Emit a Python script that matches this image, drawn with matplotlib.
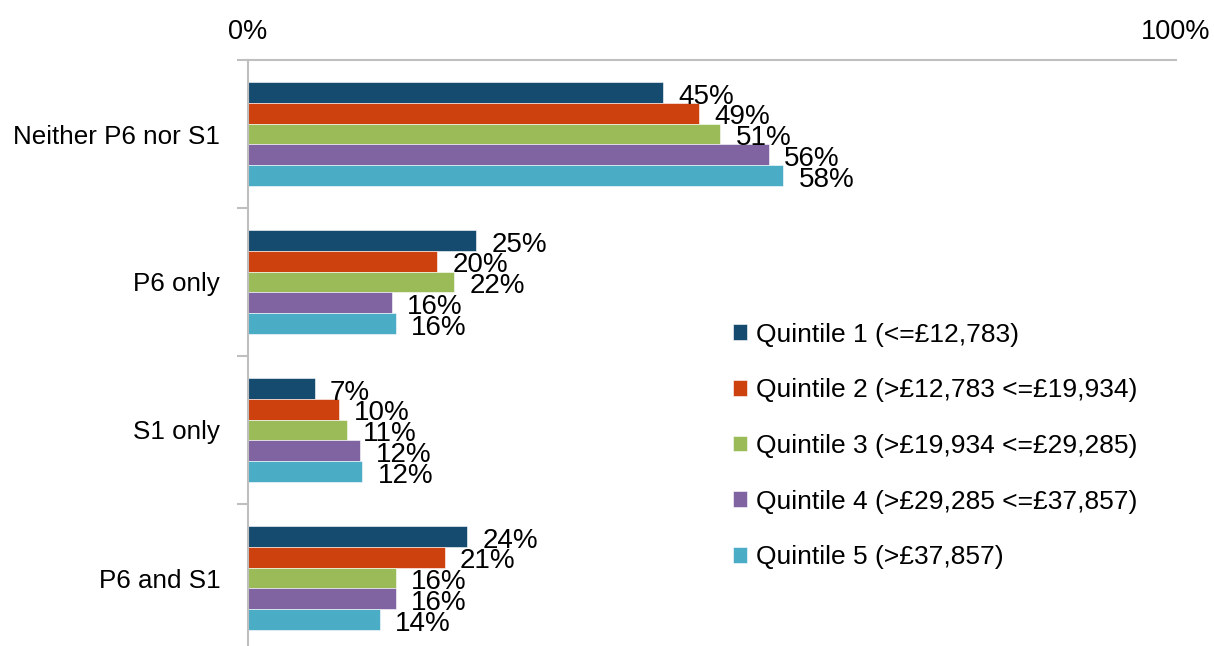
import numpy as np
import matplotlib.pyplot as plt

plt.rcParams['font.family'] = ['Liberation Sans', 'DejaVu Sans']

# data
categories = ['Neither P6 nor S1', 'P6 only', 'S1 only', 'P6 and S1']
series_names = ['Quintile 1 (<=£12,783)',
                'Quintile 2 (>£12,783 <=£19,934)',
                'Quintile 3 (>£19,934 <=£29,285)',
                'Quintile 4 (>£29,285 <=£37,857)',
                'Quintile 5 (>£37,857)']
q1 = [44.7, 24.6, 7.2, 23.6]
q2 = [48.6, 20.4, 9.8, 21.2]
q3 = [50.9, 22.2, 10.7, 15.9]
q4 = [56.1, 15.5, 12.1, 15.9]
q5 = [57.7, 15.9, 12.3, 14.2]
series = [q1, q2, q3, q4, q5]
colors = ['#164B70', '#CC410E', '#9BBB59', '#8064A2', '#4BACC6']

fig = plt.figure(figsize=(12.14, 6.46), dpi=100)
ax = fig.add_axes([248 / 1214, -6 / 646, 928 / 1214, 592 / 646])

bar_h = 0.14
y = np.arange(len(categories))
for i, (vals, col, name) in enumerate(zip(series, colors, series_names)):
    pos = y + (i - 2) * bar_h
    bars = ax.barh(pos, vals, height=bar_h, color=col, label=name,
                   edgecolor='white', linewidth=0.4)
    for b, v in zip(bars, vals):
        ax.annotate('%d%%' % round(v), (v, b.get_y() + bar_h / 2),
                    xytext=(11, -3), textcoords='offset points',
                    ha='left', va='center', fontsize=20)

ax.set_xlim(0, 100)
ax.set_ylim(len(categories) - 0.5, -0.5)

ax.xaxis.tick_top()
ax.set_xticks([0, 100])
ax.set_xticklabels(['0%', '100%'])
ax.tick_params(axis='x', length=0, pad=11, labelsize=19.5)

ax.set_yticks(y)
ax.set_yticklabels(categories)
ax.set_yticks(np.arange(len(categories) + 1) - 0.5, minor=True)
ax.tick_params(axis='y', which='major', length=0, pad=20, labelsize=18.7)
ax.tick_params(axis='y', which='minor', length=8, color='#BFBFBF', width=1.5)

for s in ['right', 'bottom']:
    ax.spines[s].set_visible(False)
for s in ['left', 'top']:
    ax.spines[s].set_color('#BFBFBF')
    ax.spines[s].set_linewidth(1.5)

leg = fig.legend(loc='upper left', bbox_to_anchor=(722 / 1214, 1 - 312 / 646),
                 frameon=False, fontsize=19, handlelength=0.53, handleheight=0.53,
                 handletextpad=0.35, labelspacing=1.2, borderaxespad=0)

fig.savefig('out.png', dpi=100)
